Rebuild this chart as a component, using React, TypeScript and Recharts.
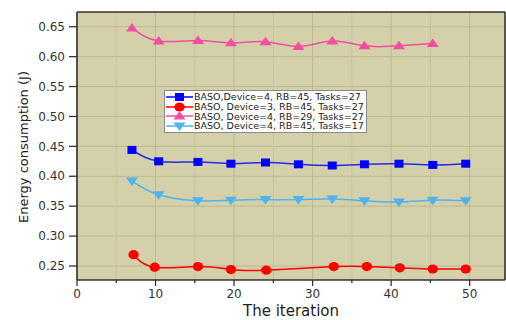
import { LineChart, Line, XAxis, YAxis, CartesianGrid, ReferenceLine } from 'recharts'

// iteration positions of the markers
const iterations = [7, 10.4, 15.4, 19.6, 24, 28.2, 32.5, 36.6, 41, 45.3, 49.5]
const redIterations = [7.2, 9.9, 15.4, 19.6, 24.1, 32.7, 36.9, 41.1, 45.3, 49.5]

const blueValues = [0.444, 0.425, 0.424, 0.421, 0.423, 0.42, 0.418, 0.42, 0.421, 0.419, 0.421]
const redValues = [0.269, 0.248, 0.249, 0.244, 0.243, 0.249, 0.249, 0.247, 0.245, 0.245]
const pinkValues = [0.648, 0.626, 0.627, 0.623, 0.625, 0.617, 0.626, 0.618, 0.618, 0.622]
const cyanValues = [0.392, 0.369, 0.359, 0.36, 0.361, 0.361, 0.362, 0.359, 0.357, 0.36, 0.359]

const seriesNames = [
  'BASO,Device=4, RB=45, Tasks=27',
  'BASO, Device=3, RB=45, Tasks=27',
  'BASO, Device=4, RB=29, Tasks=27',
  'BASO, Device=4, RB=45, Tasks=17',
]

const xTicks = [0, 5, 10, 15, 20, 25, 30, 35, 40, 45, 50]
const xMajor = [0, 10, 20, 30, 40, 50]
const xMinor = [5, 15, 25, 35, 45]
const yTicks = [0.25, 0.275, 0.3, 0.325, 0.35, 0.375, 0.4, 0.425, 0.45, 0.475, 0.5, 0.525, 0.55, 0.575, 0.6, 0.625, 0.65]
const yMajor = [0.25, 0.3, 0.35, 0.4, 0.45, 0.5, 0.55, 0.6, 0.65]

const X_DOMAIN: [number, number] = [0, 54.5]
const Y_DOMAIN: [number, number] = [0.2266, 0.6746]

const FONT = '"DejaVu Sans", sans-serif'
const AXIS = '#333'
const BG = '#d4d0aa'

const COLORS = {
  blue: '#0000ff',
  red: '#ff0000',
  pink: '#f34ea2',
  cyan: '#4fb4ee',
}

const toPoints = (xs: number[], ys: number[]) => ys.map((y, i) => ({ x: xs[i], y }))

const blueData = toPoints(iterations, blueValues)
const redData = toPoints(redIterations, redValues)
const pinkData = toPoints(iterations, pinkValues)
const cyanData = toPoints(iterations, cyanValues)

type Shape = 'square' | 'circle' | 'up' | 'down'

const MarkerShape = ({ cx, cy, shape, color }: { cx: number; cy: number; shape: Shape; color: string }) => {
  if (shape === 'square') return <rect x={cx - 4.5} y={cy - 4} width={9} height={8} fill={color} />
  if (shape === 'circle') return <ellipse cx={cx} cy={cy} rx={5.2} ry={4.6} fill={color} />
  if (shape === 'up') return <polygon points={`${cx},${cy - 5} ${cx + 6},${cy + 3.5} ${cx - 6},${cy + 3.5}`} fill={color} />
  return <polygon points={`${cx},${cy + 5} ${cx + 6},${cy - 3.5} ${cx - 6},${cy - 3.5}`} fill={color} />
}

const dot = (shape: Shape, color: string) => (p: any) => {
  if (p.cx == null || p.cy == null) return <g key={p.index} />
  return <MarkerShape key={p.index} cx={p.cx} cy={p.cy} shape={shape} color={color} />
}

const XTick = (p: any) => {
  const v = p.payload.value
  const major = v % 10 === 0
  return (
    <g>
      <line x1={p.x} x2={p.x} y1={p.y} y2={p.y + (major ? 6 : 3)} stroke={AXIS} strokeWidth={1.3} />
      {major && (
        <text x={p.x} y={p.y + 14} dy="0.35em" textAnchor="middle" fontFamily={FONT} fontSize={12} fill={AXIS}>
          {v}
        </text>
      )}
    </g>
  )
}

const YTick = (p: any) => {
  const v = p.payload.value
  const major = Math.round(v * 1000) % 50 === 0
  return (
    <g>
      <line x1={p.x} x2={p.x - (major ? 8 : 4.5)} y1={p.y} y2={p.y} stroke={AXIS} strokeWidth={1.3} />
      {major && (
        <text x={p.x - 12} y={p.y} dy="0.35em" textAnchor="end" fontFamily={FONT} fontSize={12} fill={AXIS}>
          {v.toFixed(2)}
        </text>
      )}
    </g>
  )
}

const legendRows: { shape: Shape; color: string }[] = [
  { shape: 'square', color: COLORS.blue },
  { shape: 'circle', color: COLORS.red },
  { shape: 'up', color: COLORS.pink },
  { shape: 'down', color: COLORS.cyan },
]

export default function App() {
  return (
    <div style={{ position: 'absolute', left: 0, top: 0, width: 506, height: 320, background: '#fff' }}>
      <LineChart width={506} height={320} margin={{ top: 12, right: 1, bottom: 0, left: 0 }}>
        <CartesianGrid fill={BG} stroke="#bcb893" strokeWidth={1} horizontalValues={yMajor} verticalValues={xMajor} />
        <CartesianGrid fill="none" stroke="#c6c29d" strokeWidth={1} horizontal={false} verticalValues={xMinor} />
        <XAxis
          type="number"
          dataKey="x"
          domain={X_DOMAIN}
          ticks={xTicks}
          allowDataOverflow
          height={40}
          tickSize={0}
          tickMargin={0}
          tickLine={false}
          tick={<XTick />}
          axisLine={{ stroke: AXIS, strokeWidth: 1.6 }}
          label={() => (
            <text x={291} y={311} dy="0.35em" textAnchor="middle" fontFamily={FONT} fontSize={15} fill="#222">
              The iteration
            </text>
          )}
        />
        <YAxis
          type="number"
          domain={Y_DOMAIN}
          ticks={yTicks}
          allowDataOverflow
          width={77}
          tickSize={0}
          tickMargin={0}
          tickLine={false}
          tick={<YTick />}
          axisLine={{ stroke: AXIS, strokeWidth: 1.6 }}
          label={() => (
            <text
              x={23}
              y={147}
              dy="0.35em"
              textAnchor="middle"
              transform="rotate(-90 23 147)"
              fontFamily={FONT}
              fontSize={13}
              fill="#222"
            >
              Energy consumption (J)
            </text>
          )}
        />
        <ReferenceLine y={Y_DOMAIN[1]} stroke={AXIS} strokeWidth={1.6} />
        <ReferenceLine x={X_DOMAIN[1]} stroke={AXIS} strokeWidth={1.6} />

        <Line data={pinkData} dataKey="y" type="natural" stroke={COLORS.pink} strokeWidth={1.5} dot={dot('up', COLORS.pink)} isAnimationActive={false} />
        <Line data={blueData} dataKey="y" type="natural" stroke="#2a2ae0" strokeWidth={1.5} dot={dot('square', COLORS.blue)} isAnimationActive={false} />
        <Line data={cyanData} dataKey="y" type="natural" stroke={COLORS.cyan} strokeWidth={1.5} dot={dot('down', COLORS.cyan)} isAnimationActive={false} />
        <Line data={redData} dataKey="y" type="natural" stroke={COLORS.red} strokeWidth={1.5} dot={dot('circle', COLORS.red)} isAnimationActive={false} />
      </LineChart>

      {/* legend box inside the plot */}
      <div
        style={{
          position: 'absolute',
          left: 164,
          top: 90,
          width: 201,
          padding: '1px 0',
          background: '#fff',
          border: '1px solid #8a8a8a',
          fontFamily: FONT,
          fontSize: 9.5,
          color: '#222',
        }}
      >
        {legendRows.map((r, i) => (
          <div key={i} style={{ display: 'flex', alignItems: 'center', height: 9.7, whiteSpace: 'nowrap' }}>
            <svg width={29} height={10} style={{ flex: 'none' }}>
              <line x1={1} x2={28} y1={5} y2={5} stroke={r.color} strokeWidth={1.5} />
              <MarkerShape cx={14.5} cy={5} shape={r.shape} color={r.color} />
            </svg>
            <span>{seriesNames[i]}</span>
          </div>
        ))}
      </div>
    </div>
  )
}
